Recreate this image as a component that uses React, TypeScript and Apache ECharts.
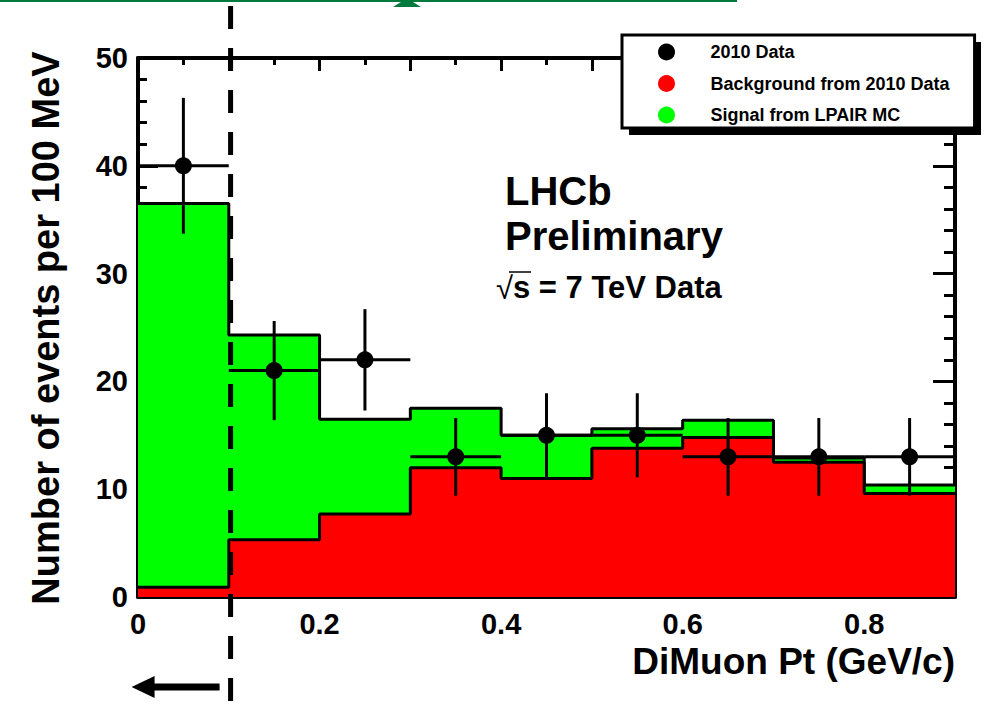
import React, { useEffect, useRef } from 'react';
import * as echarts from 'echarts';

// Histogram bin edges in DiMuon Pt (GeV/c)
const binEdges = [0, 0.1, 0.2, 0.3, 0.4, 0.5, 0.6, 0.7, 0.8, 0.9];
// Background estimated from 2010 data, events per bin
const background = [0.9, 5.3, 7.7, 12.0, 11.0, 13.8, 14.8, 12.5, 9.6];
// LPAIR MC signal, stacked on top of the background
const signal = [35.6, 19.0, 8.8, 5.5, 4.0, 1.8, 1.6, 0.4, 0.8];
// Observed 2010 data and their statistical errors
const dataCounts = [40, 21, 22, 13, 15, 15, 13, 13, 13];
const dataErrors = [6.3, 4.6, 4.7, 3.6, 3.9, 3.9, 3.6, 3.6, 3.6];
// Tick labels
const xTickLabels = ['0', '0.2', '0.4', '0.6', '0.8'];
const yTickLabels = ['0', '10', '20', '30', '40', '50'];
// Selection cut position (GeV/c)
const cutValue = 0.102;

const FONT = '"Liberation Sans", Arial, Helvetica, sans-serif';
const GREEN = '#00FF00';
const RED = '#FF0000';

// Signal + background: the outline of the stacked histogram
const stackedTotal = background.map((b, i) => b + signal[i]);

// Step-histogram points: one point per bin edge, the last edge repeats the last bin
const histPoints = (values: number[]) =>
  binEdges.map((e, i) => [e, values[Math.min(i, values.length - 1)]]);

const binCenters = binEdges.slice(0, -1).map((e, i) => (e + binEdges[i + 1]) / 2);
const binHalfWidths = binEdges.slice(0, -1).map((e, i) => (binEdges[i + 1] - e) / 2);

export default function App() {
  const ref = useRef<HTMLDivElement>(null);

  useEffect(() => {
    document.body.style.margin = '0';
    if (!ref.current) return;
    const chart = echarts.init(ref.current, undefined, { renderer: 'svg' });

    const xAxisBase = {
      type: 'value' as const,
      min: 0,
      max: 0.9,
      interval: 0.1,
      axisLine: { show: true, onZero: false, lineStyle: { color: '#000', width: 4 } },
      axisTick: { show: true, inside: true, length: 13, lineStyle: { color: '#000', width: 3 } },
      minorTick: { show: true, splitNumber: 2, length: 7, lineStyle: { color: '#000', width: 3 } },
      splitLine: { show: false },
      minorSplitLine: { show: false },
    };
    const yAxisBase = {
      type: 'value' as const,
      min: 0,
      max: 50,
      interval: 10,
      axisLine: { show: true, onZero: false, lineStyle: { color: '#000', width: 4 } },
      axisTick: { show: true, inside: true, length: 20, lineStyle: { color: '#000', width: 3 } },
      minorTick: { show: true, splitNumber: 5, length: 9, lineStyle: { color: '#000', width: 3 } },
      splitLine: { show: false },
      minorSplitLine: { show: false },
    };

    chart.setOption({
      animation: false,
      backgroundColor: '#fff',
      grid: { left: 138, top: 58, right: 33, bottom: 107, containLabel: false },
      xAxis: [
        {
          ...xAxisBase,
          position: 'bottom',
          axisLabel: {
            show: true,
            margin: 12,
            color: '#000',
            fontSize: 29,
            fontWeight: 'bold',
            fontFamily: FONT,
            formatter: (v: number) => {
              const idx = Math.round(v * 10);
              return idx % 2 === 0 ? xTickLabels[idx / 2] ?? '' : '';
            },
          },
        },
        { ...xAxisBase, position: 'top', axisLabel: { show: false } },
      ],
      yAxis: [
        {
          ...yAxisBase,
          position: 'left',
          axisLabel: {
            show: true,
            margin: 10,
            color: '#000',
            fontSize: 29,
            fontWeight: 'bold',
            fontFamily: FONT,
            formatter: (v: number) => yTickLabels[Math.round(v / 10)] ?? '',
          },
        },
        {
          ...yAxisBase,
          position: 'right',
          axisTick: { ...yAxisBase.axisTick, length: 22 },
          minorTick: { ...yAxisBase.minorTick, length: 11 },
          axisLabel: { show: false },
        },
      ],
      legend: {
        left: 622,
        top: 35,
        orient: 'vertical',
        align: 'left',
        padding: [8, 25, 4, 36],
        itemWidth: 78,
        itemHeight: 17,
        itemGap: 13.5,
        backgroundColor: '#fff',
        borderColor: '#000',
        borderWidth: 3,
        borderRadius: 0,
        selectedMode: false,
        textStyle: { fontSize: 18, fontWeight: 'bold', color: '#000', fontFamily: FONT, lineHeight: 18 },
        data: [
          { name: '2010 Data', icon: 'circle', itemStyle: { color: '#000', borderWidth: 0, opacity: 1 } },
          { name: 'Background from 2010 Data', icon: 'circle', itemStyle: { color: RED, borderWidth: 0, opacity: 1 } },
          { name: 'Signal from LPAIR MC', icon: 'circle', itemStyle: { color: GREEN, borderWidth: 0, opacity: 1 } },
        ],
      },
      series: [
        {
          name: 'Signal from LPAIR MC',
          type: 'line',
          step: 'end',
          data: histPoints(stackedTotal),
          symbol: 'none',
          z: 2,
          lineStyle: { color: '#000', width: 3 },
          itemStyle: { color: GREEN },
          areaStyle: { color: GREEN, opacity: 1, origin: 'start' },
        },
        {
          name: 'Background from 2010 Data',
          type: 'line',
          step: 'end',
          data: histPoints(background),
          symbol: 'none',
          z: 3,
          lineStyle: { color: '#000', width: 3 },
          itemStyle: { color: RED },
          areaStyle: { color: RED, opacity: 1, origin: 'start' },
        },
        {
          type: 'custom',
          z: 4,
          data: dataCounts.map((c, i) => [binCenters[i], c, dataErrors[i], binHalfWidths[i]]),
          encode: { x: 0, y: 1 },
          renderItem: (_params: any, api: any) => {
            const x = api.value(0);
            const y = api.value(1);
            const err = api.value(2);
            const hw = api.value(3);
            const top = api.coord([x, y + err]);
            const bot = api.coord([x, y - err]);
            const l = api.coord([x - hw, y]);
            const r = api.coord([x + hw, y]);
            const st = { stroke: '#000', lineWidth: 3 };
            return {
              type: 'group',
              children: [
                { type: 'line', shape: { x1: top[0], y1: top[1], x2: bot[0], y2: bot[1] }, style: st },
                { type: 'line', shape: { x1: l[0], y1: l[1], x2: r[0], y2: r[1] }, style: st },
              ],
            };
          },
        },
        {
          name: '2010 Data',
          type: 'scatter',
          z: 5,
          data: dataCounts.map((c, i) => [binCenters[i], c]),
          symbol: 'circle',
          symbolSize: 17,
          itemStyle: { color: '#000', opacity: 1 },
        },
      ],
    });

    const cutX = chart.convertToPixel({ xAxisIndex: 0 }, cutValue) as number;
    const textStyle = (size: number, weight: string = 'bold') => ({
      fill: '#000',
      fontSize: size,
      fontWeight: weight,
      fontFamily: FONT,
    });

    chart.setOption({
      graphic: [
        // header rule and emblem fragment along the top edge
        { type: 'line', z: 10, shape: { x1: 0, y1: 1, x2: 737, y2: 1 }, style: { stroke: '#007A3D', lineWidth: 2 } },
        {
          type: 'polygon',
          z: 10,
          shape: { points: [[393, 7], [401, 2], [404, 0], [410, 0], [413, 2], [421, 7]] },
          style: { fill: '#007A3D' },
        },
        // legend drop shadow
        { type: 'rect', z: 3, shape: { x: 629, y: 42, width: 352, height: 93 }, style: { fill: '#000' } },
        // selection cut
        {
          type: 'line',
          z: 20,
          shape: { x1: cutX, y1: 6, x2: cutX, y2: 704 },
          style: { stroke: '#000', lineWidth: 5, lineDash: [23, 19] },
        },
        {
          type: 'line',
          z: 20,
          shape: { x1: cutX - 82, y1: 687, x2: cutX - 11, y2: 687 },
          style: { stroke: '#000', lineWidth: 7 },
        },
        {
          type: 'polygon',
          z: 20,
          shape: { points: [[cutX - 99, 687], [cutX - 76, 676], [cutX - 76, 698]] },
          style: { fill: '#000' },
        },
        // experiment labels
        { type: 'text', z: 20, x: 505, y: 190.5, style: { ...textStyle(40), text: 'LHCb', verticalAlign: 'middle' } },
        { type: 'text', z: 20, x: 505, y: 235.5, style: { ...textStyle(40), text: 'Preliminary', verticalAlign: 'middle' } },
        { type: 'text', z: 20, x: 496, y: 288, style: { ...textStyle(31, 'normal'), text: '√', verticalAlign: 'middle' } },
        { type: 'text', z: 20, x: 513, y: 287, style: { ...textStyle(31), text: 's = 7 TeV Data', verticalAlign: 'middle' } },
        { type: 'line', z: 20, shape: { x1: 509, y1: 272, x2: 531, y2: 272 }, style: { stroke: '#000', lineWidth: 1.5 } },
        // axis titles
        {
          type: 'text',
          z: 20,
          x: 955,
          y: 661,
          style: { ...textStyle(37), text: 'DiMuon Pt (GeV/c)', align: 'right', verticalAlign: 'middle' },
        },
        {
          type: 'text',
          z: 20,
          x: 46,
          y: 328,
          rotation: Math.PI / 2,
          style: { ...textStyle(38), text: 'Number of events per 100 MeV', align: 'center', verticalAlign: 'middle' },
        },
      ],
    });

    return () => chart.dispose();
  }, []);

  return <div ref={ref} style={{ width: 988, height: 704 }} />;
}
